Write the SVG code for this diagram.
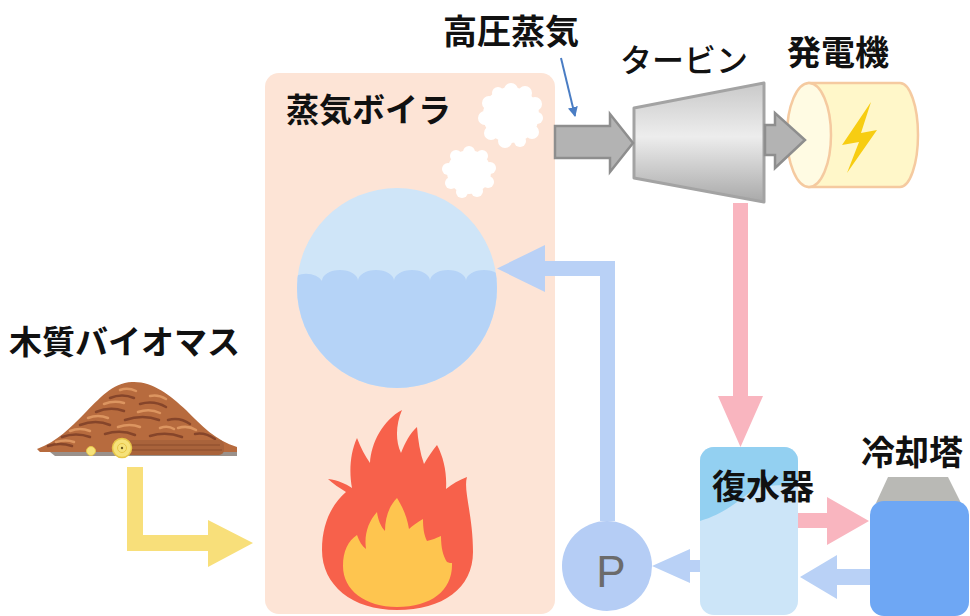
<svg xmlns="http://www.w3.org/2000/svg" width="970" height="616" viewBox="0 0 970 616">
  <defs>
    <style>
      .lbl { font-family: "Noto Sans CJK JP", "Noto Sans", sans-serif; font-weight: 700; fill: #111; }
      .lbl-m { font-family: "Noto Sans CJK JP", "Noto Sans", sans-serif; font-weight: 500; fill: #111; }
      .gray-arrow { fill: #b3b3b3; stroke: #8e8e8e; stroke-width: 2.5; stroke-linejoin: miter; }
      .blue-flow { fill: #b9d1f6; }
      .pink-flow { fill: #f9b5bf; }
      .cloud { fill: #ffffff; }
    </style>
    <linearGradient id="turbineGrad" x1="0" y1="0" x2="0" y2="1">
      <stop offset="0" stop-color="#c9c9c9"/>
      <stop offset="0.45" stop-color="#ededed"/>
      <stop offset="1" stop-color="#a9a9a9"/>
    </linearGradient>
    <clipPath id="drumClip">
      <circle cx="397" cy="288" r="100"/>
    </clipPath>
    <clipPath id="condClip">
      <rect x="700" y="447" width="98" height="168" rx="14"/>
    </clipPath>
    <marker id="thinHead" viewBox="0 0 10 10" refX="9" refY="5" markerWidth="5" markerHeight="5" orient="auto">
      <path d="M0,0 L10,5 L0,10 Z" fill="#4a7dc4"/>
    </marker>
  </defs>

  <rect width="970" height="616" fill="#ffffff"/>

  <!-- boiler -->
  <g id="boiler">
    <rect x="265" y="73" width="290" height="541" rx="14" fill="#fde4d6"/>
    <text class="lbl" x="286" y="122" font-size="33">蒸気ボイラ</text>
    <!-- steam puffs -->
    <g class="cloud">
      <circle cx="511" cy="115" r="28"/>
      <circle cx="511" cy="90" r="7"/>
      <circle cx="525" cy="93" r="7"/>
      <circle cx="535" cy="104" r="7"/>
      <circle cx="537" cy="118" r="6"/>
      <circle cx="532" cy="132" r="7"/>
      <circle cx="520" cy="141" r="6"/>
      <circle cx="505" cy="141" r="7"/>
      <circle cx="491" cy="133" r="7"/>
      <circle cx="485" cy="118" r="7"/>
      <circle cx="489" cy="103" r="7"/>
      <circle cx="498" cy="93" r="6"/>
      <circle cx="469" cy="172" r="22"/>
      <circle cx="469" cy="152" r="6"/>
      <circle cx="482" cy="156" r="6"/>
      <circle cx="490" cy="168" r="6"/>
      <circle cx="488" cy="182" r="6"/>
      <circle cx="477" cy="191" r="6"/>
      <circle cx="462" cy="192" r="6"/>
      <circle cx="451" cy="183" r="6"/>
      <circle cx="448" cy="169" r="6"/>
      <circle cx="456" cy="156" r="6"/>
    </g>
    <!-- steam drum -->
    <circle cx="397" cy="288" r="100" fill="#cfe5f8"/>
    <path clip-path="url(#drumClip)" fill="#b5d3f7"
          d="M290 400 L290 281 A17 11 0 0 1 322 281 A18 11 0 0 1 358 281 A18 11 0 0 1 394 281 A18 11 0 0 1 430 281 A18 11 0 0 1 466 281 A18 11 0 0 1 502 281 L502 400 Z"/>
    <!-- burner flame -->
    <path fill="#f7614b"
          d="M397 610 C352 610 322 585 322 550 C322 522 333 503 346 492 C340 488 333 484 328 479 C338 480 346 484 352 488 C349 472 350 453 357 438 C361 448 365 456 370 463 C371 443 383 420 402 410 C396 424 395 440 401 453 C405 443 410 433 417 427 C418 440 420 453 424 464 C428 457 433 450 437 445 C444 458 447 474 446 489 C452 484 459 480 467 477 C463 490 473 515 473 552 C473 588 443 610 397 610 Z"/>
    <path fill="#fec54f"
          d="M397 607 C365 607 343 590 343 566 C343 551 348 541 357 535 C359 541 362 546 366 549 C364 535 368 522 377 512 C378 520 381 527 385 531 C385 516 390 505 397 498 C402 506 407 516 409 529 C413 525 418 522 423 519 C423 528 424 535 427 541 C432 540 436 538 441 536 C441 548 443 556 447 562 C449 563 451 563 452 563 C453 590 432 607 397 607 Z"/>
  </g>

  <!-- biomass fuel -->
  <g id="biomass">
    <text class="lbl" x="9" y="354" font-size="33">木質バイオマス</text>
    <path d="M50 452 L237 452 L237 456 L55 456 Z" fill="#9a918b"/>
    <path d="M37 449 C58 441 70 428 84 414 C99 399 112 383 132 382 C152 381 170 395 186 410 C201 425 216 441 237 447 L237 452 L40 452 Z" fill="#b76b3e"/>
    <g fill="none" stroke-linecap="round">
      <g stroke="#86452a" stroke-width="2.5">
        <path d="M110 398 q12 -5 24 0"/>
        <path d="M96 412 q14 -6 28 -1"/>
        <path d="M140 404 q14 -4 26 3"/>
        <path d="M80 425 q16 -6 30 0"/>
        <path d="M125 420 q18 -6 34 0"/>
        <path d="M168 420 q12 -3 22 4"/>
        <path d="M62 437 q14 -5 28 0"/>
        <path d="M105 434 q16 -5 30 1"/>
        <path d="M150 436 q16 -5 32 1"/>
        <path d="M195 434 q10 -2 20 5"/>
        <path d="M48 446 q12 -4 24 0"/>
      </g>
      <g stroke="#dc9560" stroke-width="2.5">
        <path d="M120 390 q8 -3 16 1"/>
        <path d="M104 404 q10 -4 20 -1"/>
        <path d="M150 396 q8 -2 16 3"/>
        <path d="M88 418 q10 -4 20 0"/>
        <path d="M138 412 q12 -4 22 1"/>
        <path d="M178 428 q10 -3 18 2"/>
        <path d="M70 431 q10 -4 20 0"/>
        <path d="M118 427 q12 -4 22 0"/>
        <path d="M160 428 q8 -3 14 1"/>
        <path d="M56 442 q10 -3 18 0"/>
        <path d="M206 442 q8 -2 16 2"/>
      </g>
    </g>
    <!-- logs -->
    <rect x="118" y="440" width="106" height="15" rx="5" fill="#a9633b"/>
    <path d="M130 445 H220 M130 450 H222" stroke="#8a4c2c" stroke-width="1"/>
    <circle cx="122" cy="448" r="9.5" fill="#f6e27a" stroke="#e7c648" stroke-width="1.5"/>
    <circle cx="122" cy="448" r="4.5" fill="none" stroke="#e7c648" stroke-width="1"/>
    <circle cx="122" cy="448" r="1.2" fill="#6b5a20"/>
    <circle cx="91" cy="451" r="4.5" fill="#f6e27a" stroke="#e7c648" stroke-width="1"/>
  </g>

  <!-- high pressure steam label -->
  <g id="steam-label">
    <text class="lbl" x="443" y="44" font-size="34">高圧蒸気</text>
  </g>

  <!-- turbine -->
  <g id="turbine">
    <text class="lbl-m" x="620" y="72" font-size="32">タービン</text>
    <path d="M634 108 L764 83 L764 202 L634 178 Z" fill="url(#turbineGrad)" stroke="#a3a3a3" stroke-width="3" stroke-linejoin="round"/>
  </g>

  <!-- generator -->
  <g id="generator">
    <text class="lbl" x="787" y="65" font-size="34">発電機</text>
    <path d="M809 83 L900 83 A18 52 0 0 1 900 187 L809 187 Z" fill="#fff7c9" stroke="#f5caa0" stroke-width="2.5"/>
    <ellipse cx="809" cy="135" rx="22" ry="52" fill="#fffbe3" stroke="#f5caa0" stroke-width="2.5"/>
    <path d="M871 102 L842 145 L859 142 L847 173 L877 130 L861 133 Z" fill="#f7cd12"/>
  </g>

  <!-- feed pump -->
  <g id="pump">
    <circle cx="607" cy="566" r="45" fill="#b5cdf5"/>
    <text x="611" y="587" font-family="Liberation Sans, Arial, sans-serif" font-size="44" fill="#6b6b6b" text-anchor="middle">P</text>
  </g>

  <!-- condenser -->
  <g id="condenser">
    <rect x="700" y="447" width="98" height="168" rx="14" fill="#cce5f8"/>
    <path clip-path="url(#condClip)" fill="#93d0f1"
          d="M700 447 L798 447 L798 485 C782 485 766 485 757 488 C742 496 730 512 700 521 Z"/>
    <text class="lbl" x="712" y="499" font-size="34">復水器</text>
  </g>

  <!-- cooling tower -->
  <g id="cooling-tower">
    <text class="lbl" x="861" y="465" font-size="34">冷却塔</text>
    <path d="M888 477 L948 477 L961 503 L876 503 Z" fill="#b9b9b5"/>
    <rect x="870" y="501" width="99" height="115" rx="14" fill="#6ea7f4"/>
  </g>

  <!-- connectors -->
  <g id="connectors">
    <!-- fuel feed -->
    <path d="M127 467 L143 467 L143 535 L208 535 L208 520 L253 543 L208 567 L208 551 L127 551 Z" fill="#f8df7a"/>
    <!-- steam to turbine -->
    <path class="gray-arrow" d="M555 126 L610 126 L610 114 L633 143 L610 172 L610 158 L555 158 Z"/>
    <!-- turbine shaft to generator -->
    <path class="gray-arrow" d="M765 125 L775 125 L775 113 L805 140 L775 168 L775 155 L765 155 Z"/>
    <!-- exhaust steam down to condenser -->
    <path class="pink-flow" d="M733 203 L748 203 L748 396 L763 396 L740.5 447 L718 396 L733 396 Z"/>
    <!-- condenser to cooling tower -->
    <path class="pink-flow" d="M798 513 L827 513 L827 497 L869 521 L827 545 L827 528 L798 528 Z"/>
    <!-- cooling water return -->
    <path class="blue-flow" d="M870 569 L837 569 L837 555 L800 577 L837 599 L837 585 L870 585 Z"/>
    <!-- condensate to pump -->
    <path class="blue-flow" d="M700 560 L690 560 L690 549 L652 566 L690 583 L690 572 L700 572 Z"/>
    <!-- feed water to drum -->
    <path class="blue-flow" d="M615 521 L615 261 L545 261 L545 245 L497 268.5 L545 292 L545 276 L600 276 L600 521 Z"/>
    <!-- steam callout -->
    <line x1="561" y1="58" x2="575" y2="116" stroke="#4a7dc4" stroke-width="2" marker-end="url(#thinHead)"/>
  </g>
</svg>
